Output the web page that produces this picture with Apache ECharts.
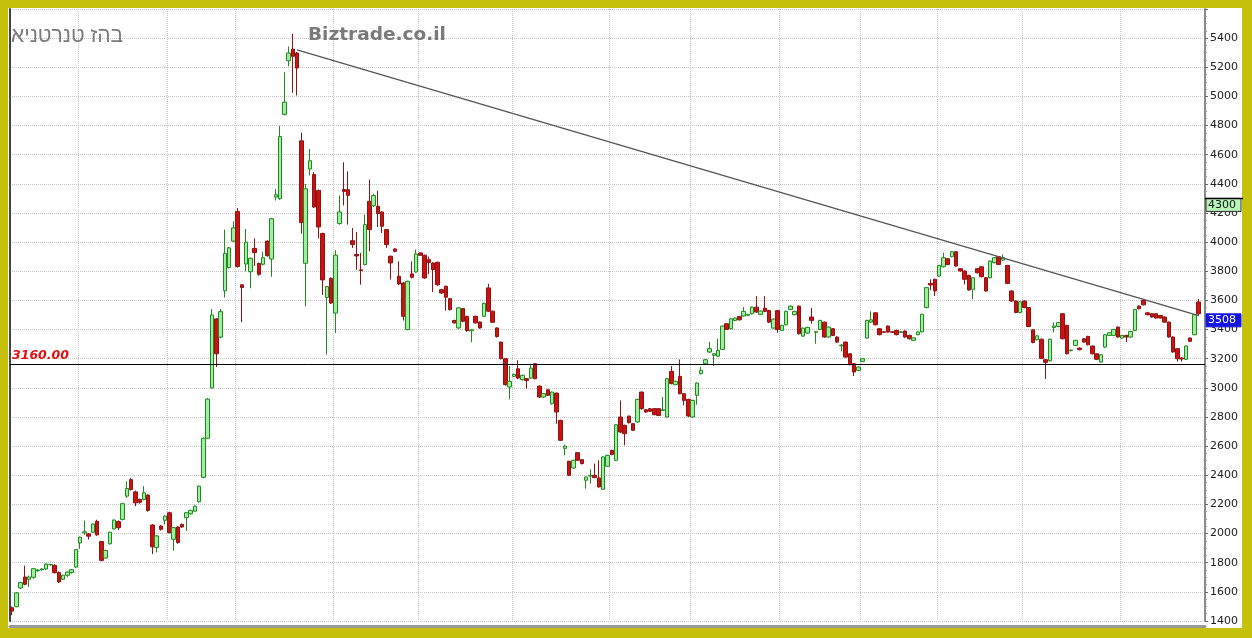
<!DOCTYPE html>
<html>
<head>
<meta charset="utf-8">
<script src="https://cdn.jsdelivr.net/npm/echarts@6/dist/echarts.min.js"></script>
<style>
html,body{margin:0;padding:0;background:#c4c00c;}
#chart{width:1252px;height:638px;}
</style>
</head>
<body>
<div id="chart"></div>
<script>
const open = [1491,1498,1627,1702,1686,1700,1745,1752,1757,1786,
1782,1732,1686,1714,1732,1770,1936,2005,1998,2009,
2084,1945,1832,1930,2032,2082,2097,2257,2370,2286,
2234,2234,2264,2059,1904,2052,2091,2143,1961,2045,
2063,2109,2136,2154,2218,2386,2654,3000,3473,3348,
3666,3825,4007,4211,3707,3850,3797,3957,3854,3848,
4007,3884,4309,4298,4877,5245,5325,5298,4695,3855,
4502,4464,4355,4059,3620,3752,3513,4127,4361,4360,
4010,3915,3810,3846,4280,4250,4246,4207,4086,3903,
3953,3766,3720,3400,3782,3795,3926,3910,3880,3857,
3862,3674,3697,3612,3462,3411,3544,3491,3392,3491,
3452,3491,3686,3526,3411,3314,3200,3006,3079,3131,
3056,3063,3067,3166,3012,2937,2987,2891,2964,2777,
2585,2496,2450,2555,2507,2366,2395,2400,2382,2304,
2462,2571,2503,2800,2743,2806,2754,2766,2971,2850,
2857,2857,2857,2845,2800,3113,3022,3079,2960,2921,
2800,2949,3097,3166,3246,3223,3218,3264,3440,3406,
3463,3490,3493,3498,3509,3554,3504,3547,3531,3410,
3530,3394,3433,3538,3502,3561,3355,3376,3486,3381,
3401,3451,3349,3406,3349,3289,3314,3234,3166,3120,
3182,3342,3451,3515,3406,3385,3424,3385,3394,3381,
3390,3360,3326,3365,3384,3551,3717,3745,3767,3831,
3886,3900,3934,3818,3802,3772,3676,3818,3831,3756,
3756,3859,3900,3877,3840,3665,3596,3517,3596,3551,
3398,3330,3334,3193,3186,3414,3421,3509,3429,3255,
3291,3273,3337,3353,3287,3234,3177,3280,3360,3360,
3417,3342,3360,3349,3394,3561,3600,3515,3509,3509,
3497,3486,3451,3349,3269,3205,3196,3342,3365,3589];

const close = [1468,1593,1664,1652,1702,1759,1750,1757,1791,1788,
1732,1668,1714,1736,1752,1890,1975,2012,1982,2066,
1991,1816,1884,2009,2093,2040,2205,2309,2302,2211,
2215,2280,2159,1909,1984,2029,2120,2007,2041,1938,
2045,2143,2159,2188,2325,2654,2923,3500,3234,3523,
3923,3961,4098,3832,3689,4000,3889,3929,3779,3893,
3907,4161,4325,4725,4961,5298,5275,5195,4134,4366,
4559,4241,4104,3741,3695,3582,3911,4207,4348,4321,
3983,3905,3805,4120,4086,4320,4196,4109,3983,3857,
3937,3713,3491,3731,3759,3919,3910,3754,3860,3811,
3708,3651,3622,3537,3446,3549,3457,3393,3398,3446,
3411,3580,3526,3450,3352,3200,3022,3045,3093,3067,
3086,3051,3136,3063,2937,2960,2949,2971,2834,2640,
2600,2400,2503,2503,2480,2388,2399,2384,2320,2526,
2537,2542,2747,2697,2686,2761,2709,2921,2857,2834,
2839,2816,2811,2850,3063,3029,3045,2960,2914,2807,
2914,3033,3120,3193,3269,3234,3257,3424,3401,3474,
3479,3467,3525,3504,3554,3520,3527,3525,3451,3472,
3400,3429,3525,3561,3525,3371,3410,3415,3463,3385,
3463,3349,3417,3360,3314,3293,3211,3159,3109,3143,
3200,3463,3467,3433,3365,3381,3383,3381,3365,3385,
3349,3337,3343,3384,3505,3688,3706,3665,3840,3893,
3847,3934,3836,3802,3745,3672,3756,3790,3763,3665,
3870,3893,3847,3893,3717,3596,3517,3590,3551,3421,
3311,3357,3202,3175,3334,3425,3448,3337,3234,3259,
3326,3262,3314,3296,3234,3196,3227,3365,3378,3401,
3349,3360,3349,3387,3538,3543,3570,3502,3486,3479,
3479,3451,3349,3246,3200,3198,3287,3319,3502,3508];

const low = [1440,1495,1620,1645,1634,1690,1738,1745,1750,1780,
1725,1660,1680,1700,1725,1765,1895,1990,1959,2005,
1985,1810,1828,1925,2028,2025,2090,2245,2295,2188,
2205,2228,2150,1859,1870,2020,2063,2000,1882,1930,
2040,2018,2130,2150,2212,2380,2650,2995,3143,3340,
3620,3820,4000,3825,3450,3800,3684,3838,3770,3840,
3900,3763,4286,4290,4870,5207,5025,5007,4059,3559,
4457,4235,4025,3638,3229,3575,3377,4120,4252,4120,
3960,3811,3708,3840,3937,4240,4104,4063,3960,3743,
3930,3705,3462,3395,3750,3790,3905,3748,3780,3658,
3700,3645,3530,3530,3440,3405,3450,3385,3313,3440,
3405,3485,3520,3445,3345,3195,3015,2921,3075,3060,
3050,2994,3060,3058,2930,2932,2944,2885,2754,2635,
2537,2395,2445,2498,2475,2308,2343,2380,2315,2300,
2458,2538,2498,2690,2606,2756,2704,2760,2850,2830,
2835,2812,2806,2840,2795,3024,3018,2955,2880,2800,
2795,2884,3092,3160,3240,3150,3212,3260,3396,3400,
3458,3462,3488,3494,3504,3515,3500,3520,3446,3405,
3378,3390,3428,3533,3498,3366,3350,3372,3440,3303,
3396,3344,3344,3355,3309,3250,3206,3154,3081,3115,
3178,3337,3446,3428,3360,3376,3378,3376,3360,3376,
3344,3332,3321,3360,3380,3546,3670,3631,3762,3826,
3842,3895,3831,3797,3710,3667,3608,3785,3758,3660,
3751,3854,3842,3872,3712,3591,3512,3512,3546,3416,
3306,3325,3197,3061,3181,3380,3416,3332,3229,3250,
3286,3257,3309,3291,3229,3191,3172,3275,3355,3355,
3344,3337,3314,3344,3389,3538,3565,3497,3481,3474,
3474,3446,3344,3241,3180,3180,3191,3314,3360,3497];

const high = [1500,1598,1670,1780,1712,1765,1755,1762,1795,1792,
1790,1740,1718,1740,1755,1895,1980,2089,2002,2070,
2095,1950,1890,2012,2097,2090,2210,2359,2381,2295,
2240,2325,2270,2065,1990,2058,2125,2150,2045,2050,
2068,2148,2163,2192,2330,2660,2930,3541,3480,3541,
4086,3968,4143,4234,3712,4090,3895,4025,3860,3934,
4012,4166,4366,4798,5166,5343,5430,5305,4752,4400,
4639,4480,4360,4065,3700,3758,3945,4320,4548,4486,
4097,4070,3926,4189,4429,4330,4353,4212,4090,3908,
3960,3868,3725,3736,3868,3949,3930,3915,3900,3862,
3866,3680,3702,3617,3468,3553,3548,3495,3402,3495,
3456,3585,3714,3530,3415,3318,3205,3150,3097,3189,
3090,3067,3166,3170,3016,2964,2991,2975,2968,2781,
2610,2500,2507,2560,2511,2392,2441,2480,2503,2530,
2541,2575,2751,2914,2747,2810,2758,2926,2975,2854,
2860,2861,2860,2937,3068,3150,3049,3195,2964,2925,
2918,3037,3143,3197,3314,3238,3337,3428,3444,3478,
3483,3494,3554,3508,3558,3630,3531,3630,3535,3476,
3535,3433,3529,3565,3529,3565,3414,3419,3547,3389,
3467,3455,3421,3410,3353,3300,3318,3238,3170,3147,
3204,3467,3525,3519,3410,3389,3428,3389,3398,3389,
3394,3364,3347,3388,3509,3692,3745,3749,3844,3927,
3890,3938,3938,3822,3806,3776,3760,3822,3835,3760,
3874,3897,3904,3916,3844,3669,3600,3594,3600,3555,
3402,3361,3338,3197,3338,3450,3452,3513,3433,3263,
3330,3277,3341,3357,3291,3238,3231,3369,3382,3405,
3421,3364,3364,3391,3542,3565,3611,3519,3513,3513,
3501,3490,3455,3353,3273,3210,3291,3346,3506,3611];

// trading-day categories (one spare slot at the right edge)
const categories = open.map((_, i) => String(i + 1)).concat(['']);
// first trading day of each month (vertical grid lines)
const monthStarts = [16, 37, 53, 76, 96, 118, 141, 160, 181, 200, 218, 238, 261];
// falling trend line: [day index, price]
const trendIdx = [67, 279];
const trendVal = [5320, 3495];
const supportLevel = 3160;
const alertLevel = 4300;
const lastPrice = 3508;
const yTicks = [1400, 5600, 200];
const titleHe = 'אינטרנט זהב';
const titleSite = 'Biztrade.co.il';

const ohlc = open.map((o, i) => [o, close[i], low[i], high[i]]);
const trendData = trendIdx.map((x, i) => [x, trendVal[i]]);

const chart = echarts.init(document.getElementById('chart'));
const monthSet = new Set(monthStarts);

chart.setOption({
  animation: false,
  backgroundColor: '#c4c00c',
  grid: { left: 10, right: 47, top: 9, bottom: 17 },
  xAxis: {
    type: 'category',
    data: categories,
    boundaryGap: true,
    offset: 5,
    axisLine: { show: true, lineStyle: { color: '#9a9a9a', width: 3 } },
    axisTick: { show: false },
    axisLabel: { show: false },
    splitLine: {
      show: true,
      interval: (idx) => monthSet.has(idx),
      lineStyle: { color: '#c8c8c8', type: 'dotted', width: 1 }
    }
  },
  yAxis: [{
    type: 'value',
    position: 'right',
    min: yTicks[0], max: yTicks[1], interval: yTicks[2],
    axisLine: { show: true, lineStyle: { color: '#8a8a8a', width: 2 } },
    axisTick: { show: true, length: 3, lineStyle: { color: '#666' } },
    minorTick: { show: true, splitNumber: 4, length: 2, lineStyle: { color: '#999' } },
    axisLabel: {
      color: '#222', fontSize: 11, fontFamily: 'DejaVu Sans', margin: 5,
      formatter: (v) => (v >= yTicks[1] ? '' : String(v))
    },
    splitLine: { show: true, lineStyle: { color: '#c4c4c4', type: 'dotted', width: 1 } }
  }, {
    type: 'value',
    position: 'left',
    min: yTicks[0], max: yTicks[1], interval: yTicks[2],
    axisLine: { show: true, lineStyle: { color: '#444', width: 2 } },
    axisTick: { show: false },
    axisLabel: { show: false },
    splitLine: { show: false }
  }],
  series: [{
    type: 'candlestick',
    data: ohlc,
    barWidth: 4,
    itemStyle: {
      color: '#9ef09e',
      color0: '#cc1111',
      borderColor: '#1f8a1f',
      borderColor0: '#8e1414',
      borderWidth: 1
    },
    markLine: {
      silent: true,
      symbol: 'none',
      data: [{ yAxis: supportLevel }],
      lineStyle: { color: '#000', width: 1, type: 'solid' },
      label: {
        show: true,
        position: 'insideStartTop',
        formatter: () => supportLevel.toFixed(2),
        color: '#e01010',
        fontStyle: 'italic',
        fontWeight: 'bold',
        fontSize: 12.5,
        fontFamily: 'DejaVu Sans',
        distance: [2, 2]
      }
    }
  }, {
    type: 'line',
    data: trendData,
    symbol: 'none',
    lineStyle: { color: '#555', width: 1.3 },
    z: 3
  }]
});

function marker(value, fill, textColor, withLine) {
  const py = chart.convertToPixel({ yAxisIndex: 0 }, value);
  const els = [
    { type: 'rect', z: 20, shape: { x: 1206, y: py, width: 35, height: 13 }, style: { fill: fill, stroke: withLine ? '#333' : fill, lineWidth: 1 } },
    { type: 'text', z: 21, left: 1208, top: py + 1, style: { text: String(value), font: '11px "DejaVu Sans"', fill: textColor } }
  ];
  if (withLine) {
    els.push({ type: 'line', z: 22, shape: { x1: 1205, y1: py, x2: 1243, y2: py }, style: { stroke: '#000', lineWidth: 1.5 } });
  }
  return els;
}

chart.setOption({
  graphic: [
    { type: 'rect', z: -10, shape: { x: 8, y: 8, width: 1234, height: 620 }, style: { fill: '#ffffff' } },
    { type: 'text', left: 11, top: 26, style: { text: '\u202D' + titleHe + '\u202C', font: '21px "Liberation Sans", "DejaVu Sans", sans-serif', fill: '#7a7a7a' } },
    { type: 'text', left: 308, top: 26, style: { text: titleSite, font: 'bold 18.5px "DejaVu Sans", sans-serif', fill: '#7a7a7a' } }
  ].concat(marker(alertLevel, '#b8f5b8', '#111', true), marker(lastPrice, '#1414e6', '#ffffff', false))
}, { replaceMerge: ['graphic'] });
</script>
</body>
</html>
